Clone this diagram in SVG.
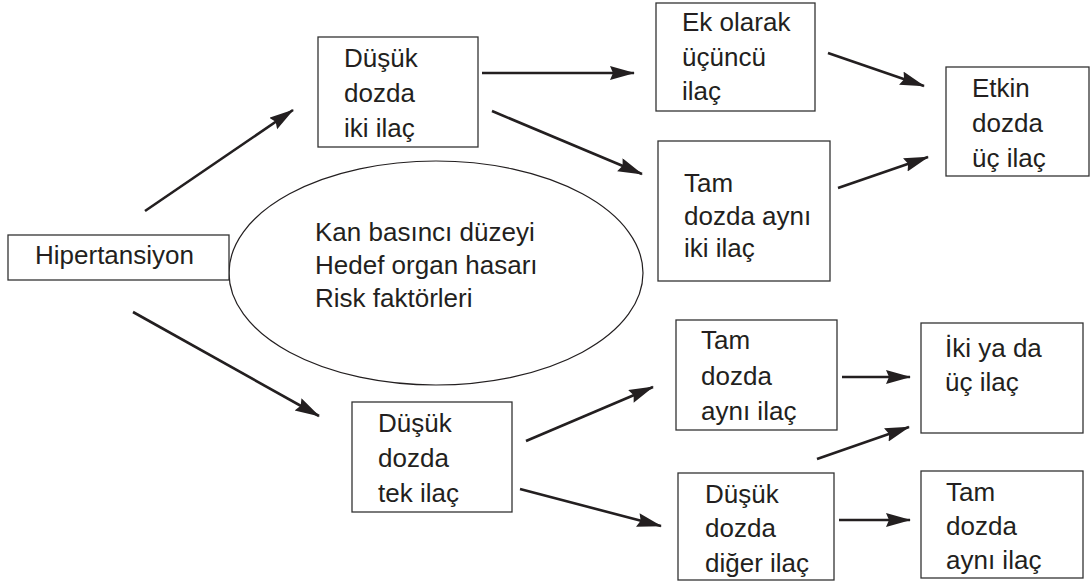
<svg xmlns="http://www.w3.org/2000/svg" width="1091" height="588" viewBox="0 0 1091 588">
<style>
.box{fill:#fff;stroke:#333;stroke-width:1.3}
.t{font-family:"Liberation Sans",Arial,sans-serif;font-size:26px;fill:#231f20}
.c{stroke:#231f20;stroke-width:2.6;fill:none;marker-end:url(#ah)}
</style>
<defs>
<marker id="ah" markerUnits="userSpaceOnUse" markerWidth="26" markerHeight="16" refX="24" refY="7" orient="auto">
<path d="M0,0 L25,7 L0,14 L3,7 Z" fill="#231f20"/>
</marker>
</defs>
<rect width="1091" height="588" fill="#fff"/>
<g id="ellipse">
<ellipse cx="436" cy="273" rx="207" ry="112" fill="#fff" stroke="#231f20" stroke-width="1.2"/>
<text class="t" x="315" y="241">Kan basıncı düzeyi</text>
<text class="t" x="315" y="274">Hedef organ hasarı</text>
<text class="t" x="315" y="307">Risk faktörleri</text>
</g>
<g id="hipertansiyon">
<rect class="box" x="8" y="235" width="221" height="45"/>
<text class="t" x="35" y="264">Hipertansiyon</text>
</g>
<g id="dusuk-iki">
<rect class="box" x="318" y="37" width="160" height="110"/>
<text class="t" x="344" y="67">Düşük</text>
<text class="t" x="344" y="102">dozda</text>
<text class="t" x="344" y="137">iki ilaç</text>
</g>
<g id="ek-olarak">
<rect class="box" x="656" y="3" width="159" height="108"/>
<text class="t" x="682" y="31">Ek olarak</text>
<text class="t" x="682" y="66">üçüncü</text>
<text class="t" x="682" y="100">ilaç</text>
</g>
<g id="tam-iki">
<rect class="box" x="658" y="141" width="172" height="140"/>
<text class="t" x="684" y="192">Tam</text>
<text class="t" x="684" y="225">dozda aynı</text>
<text class="t" x="684" y="257">iki ilaç</text>
</g>
<g id="etkin">
<rect class="box" x="946" y="67" width="143" height="109"/>
<text class="t" x="972" y="97">Etkin</text>
<text class="t" x="972" y="132">dozda</text>
<text class="t" x="972" y="167">üç ilaç</text>
</g>
<g id="dusuk-tek">
<rect class="box" x="352" y="402" width="160" height="110"/>
<text class="t" x="378" y="432">Düşük</text>
<text class="t" x="378" y="467">dozda</text>
<text class="t" x="378" y="502">tek ilaç</text>
</g>
<g id="tam-ayni">
<rect class="box" x="676" y="320" width="161" height="110"/>
<text class="t" x="701" y="349">Tam</text>
<text class="t" x="701" y="385">dozda</text>
<text class="t" x="701" y="420">aynı ilaç</text>
</g>
<g id="iki-uc">
<rect class="box" x="921" y="323" width="162" height="110"/>
<text class="t" x="945" y="357">İki ya da</text>
<text class="t" x="945" y="391">üç ilaç</text>
</g>
<g id="dusuk-diger">
<rect class="box" x="678" y="473" width="156" height="107"/>
<text class="t" x="705" y="503">Düşük</text>
<text class="t" x="705" y="537">dozda</text>
<text class="t" x="705" y="572">diğer ilaç</text>
</g>
<g id="tam-ayni-2">
<rect class="box" x="921" y="471" width="162" height="107"/>
<text class="t" x="946" y="501">Tam</text>
<text class="t" x="946" y="535">dozda</text>
<text class="t" x="946" y="569">aynı ilaç</text>
</g>
<g id="connectors">
<line class="c" x1="145" y1="211" x2="293" y2="110"/>
<line class="c" x1="133" y1="312" x2="319" y2="416"/>
<line class="c" x1="482" y1="73" x2="634" y2="73"/>
<line class="c" x1="492" y1="111" x2="642" y2="174"/>
<line class="c" x1="828" y1="53" x2="924" y2="86"/>
<line class="c" x1="838" y1="188" x2="928" y2="157"/>
<line class="c" x1="526" y1="441" x2="653" y2="387"/>
<line class="c" x1="520" y1="489" x2="661" y2="526"/>
<line class="c" x1="842" y1="377" x2="910" y2="377"/>
<line class="c" x1="817" y1="459" x2="909" y2="427"/>
<line class="c" x1="839" y1="520" x2="910" y2="520"/>
</g>
</svg>
